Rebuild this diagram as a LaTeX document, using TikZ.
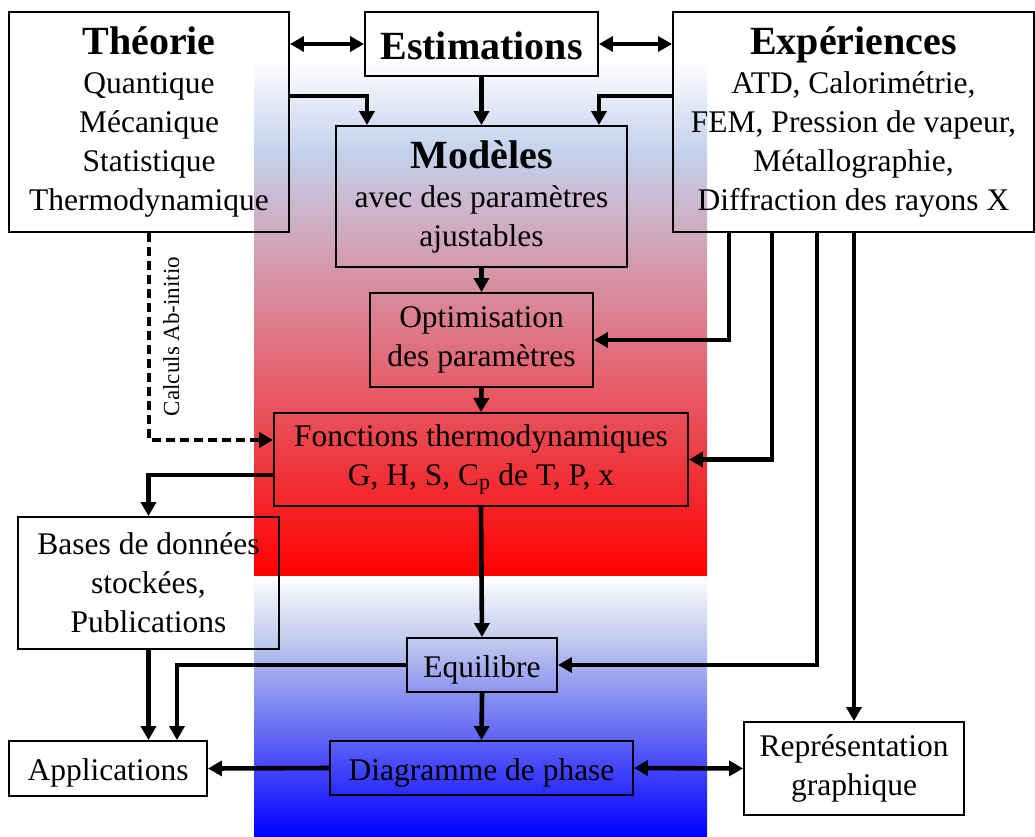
\documentclass[tikz,border=0pt]{standalone}
\usepackage{fontspec}
\setmainfont{Liberation Serif}
\usepackage{tikz}
\usetikzlibrary{arrows.meta, positioning}

\definecolor{bandlb}{HTML}{C4D2EC}
\definecolor{bandlbb}{HTML}{C0CAEC}
\newcommand\titlef{\fontsize{40}{44}\selectfont\bfseries}
\newcommand\bodyf{\fontsize{31.5}{39}\selectfont}

\begin{document}
\begin{tikzpicture}[x=1pt, y=-1pt,
  box/.style={draw=black, line width=1.9pt, align=center, inner sep=0pt, font=\bodyf,
              execute at begin node={\rule{0pt}{31pt}}},
  arr/.style={line width=4.6pt, -{Triangle[length=14pt, width=15pt]}},
  darr/.style={line width=4.6pt, {Triangle[length=14pt, width=15pt]}-{Triangle[length=14pt, width=15pt]}},
  dsh/.style={line width=3.8pt, dash pattern=on 9pt off 5pt, -{Triangle[length=14pt, width=15pt]}},
  lab/.style={font=\fontsize{23}{26}\selectfont}]
\useasboundingbox (0,0) rectangle (1035,836);
% background bands
\shade[top color=white, bottom color=bandlb] (254,60) rectangle (707,150);
\shade[top color=bandlb, bottom color=red] (254,150) rectangle (707,576);
\shade[top color=white, bottom color=bandlbb] (254,576) rectangle (707,640);
\shade[top color=bandlbb, bottom color=blue] (254,640) rectangle (707,836);
% boxes
\node[box, minimum width=280pt, minimum height=220pt] (theo) at (149,122)
  {{\titlef Théorie}\\ Quantique\\ Mécanique\\ Statistique\\ Thermodynamique};
\node[box, font=\titlef, minimum width=233pt, minimum height=64pt] (esti) at (481.5,44) {Estimations};
\node[box, minimum width=361pt, minimum height=220pt] (expe) at (853.5,122)
  {{\titlef Expériences}\\ ATD, Calorimétrie,\\ FEM, Pression de vapeur,\\ Métallographie,\\ Diffraction des rayons X};
\node[box, minimum width=291pt, minimum height=141pt] (mode) at (481.5,196.5)
  {{\titlef Modèles}\\ avec des paramètres\\ ajustables};
\node[box, minimum width=223pt, minimum height=94pt] (opti) at (481.5,340)
  {Optimisation\\ des paramètres};
\node[box, minimum width=414pt, minimum height=93pt] (fonc) at (481,459.5)
  {Fonctions thermodynamiques\\ G, H, S, C\textsubscript{p} de T, P, x};
\node[box, minimum width=261pt, minimum height=132pt] (base) at (148.5,583)
  {Bases de données\\ stockées,\\ Publications};
\node[box, minimum width=150pt, minimum height=54pt] (equi) at (482,665) {Equilibre};
\node[box, minimum width=303pt, minimum height=54pt] (diag) at (481.5,768) {Diagramme de phase};
\node[box, minimum width=198pt, minimum height=55pt] (appl) at (108,768.5) {Applications};
\node[box, minimum width=220pt, minimum height=93pt] (repr) at (854,768.5)
  {Représentation\\ graphique};
% connectors
\draw[darr] (esti.west -| theo.east) -- (esti.west);
\draw[darr] (esti.east) -- (esti.east -| expe.west);
\draw[arr] ([yshift=26pt]theo.east) -| ([xshift=-114.5pt]mode.north);
\draw[arr] (esti.south) -- (mode.north);
\draw[arr] ([yshift=26pt]expe.west) -| ([xshift=117.5pt]mode.north);
\draw[arr] (mode.south) -- (opti.north);
\draw[arr] (opti.south) -- (fonc.north);
\draw[arr] ([xshift=-124.5pt]expe.south) |- (opti.east);
\draw[arr] ([xshift=-81.5pt]expe.south) |- (fonc.east);
\draw[arr] ([xshift=-36.5pt]expe.south) |- (equi.east);
\draw[arr] (repr.north |- expe.south) -- (repr.north);
\draw[dsh] (theo.south) |- ([yshift=19.5pt]fonc.west)
  node[lab, pos=0.25, rotate=90, anchor=north, yshift=-9pt] {Calculs Ab-initio};
\draw[arr] ([yshift=-15.5pt]fonc.west) -| (base.north);
\draw[arr] (fonc.south) -- (equi.north);
\draw[arr] (base.south) -- (base.south |- appl.north);
\draw[arr] (equi.west) -| ([xshift=69pt]appl.north);
\draw[arr] (equi.south) -- (diag.north);
\draw[arr] (diag.west) -- (appl.east);
\draw[darr] (diag.east) -- (repr.west);
\end{tikzpicture}
\end{document}
